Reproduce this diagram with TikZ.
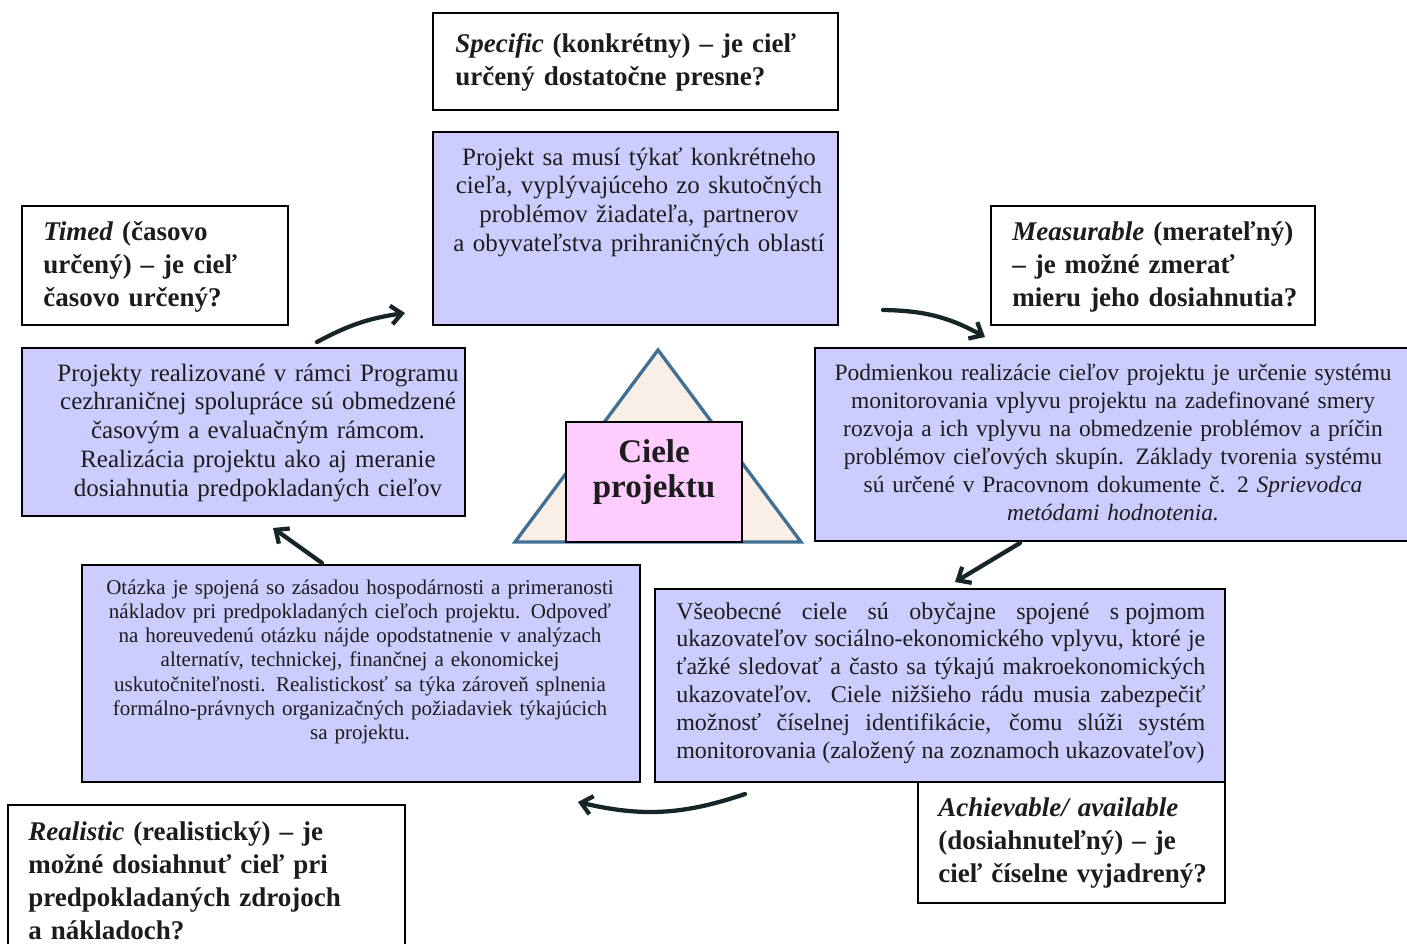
\documentclass[tikz,border=0pt]{standalone}
\usepackage{fontspec}
\setmainfont{Liberation Serif}
\usetikzlibrary{arrows.meta,fit}
\definecolor{lavender}{RGB}{204,204,255}
\definecolor{pinkfill}{RGB}{255,204,255}
\definecolor{trifill}{RGB}{250,239,230}
\definecolor{triedge}{RGB}{64,112,150}
\definecolor{arrowink}{RGB}{22,38,40}
\definecolor{ink}{RGB}{28,28,28}

\begin{document}
\begin{tikzpicture}[x=0.75pt,y=-0.75pt,
  frame/.style={draw=black, line width=1.4pt, inner sep=0pt, outer sep=0pt},
  qbox/.style={frame, fill=white},
  pbox/.style={frame, fill=lavender},
  qtext/.style={anchor=base west, inner sep=0pt, text=ink, align=left,
    text width=340pt, font=\fontsize{20.25}{24.75}\selectfont\bfseries},
  btext/.style={anchor=base, inner sep=0pt, text=ink, align=center,
    text width=#1, font=\fontsize{18.75}{21.6}\selectfont},
  rtext/.style={anchor=base, inner sep=0pt, text=ink, align=center,
    text width=#1, font=\fontsize{17.6}{21}\selectfont},
  stext/.style={anchor=base, inner sep=0pt, text=ink, align=center,
    text width=#1, font=\fontsize{15.75}{18.2}\selectfont},
  arr/.style={draw=arrowink, line width=3.2pt, line cap=round,
    -{Straight Barb[length=8pt,width=14pt]}},
]
% page area
\useasboundingbox (0,0) rectangle (1407,943);
\fill[white] (0,0) rectangle (1407,943);

% central triangle with the goal box
\draw[fill=trifill, draw=triedge, line width=2.5pt]
  (658,350) -- (801,542) -- (515,542) -- cycle;
\node[frame, fill=pinkfill, fit={(566,422) (742,542)}] (goal) {};
\node[anchor=base, inner sep=0pt, text=ink, align=center, text width=150pt,
  font=\fontsize{24.75}{26.25}\selectfont\bfseries] (goalT) at (654,462)
  {Ciele\\projektu};

% S -- Specific
\node[qbox, fit={(433,13) (838,110)}] (spec) {};
\node[qtext] (specT) at (455,52)
  {\textit{Specific} (konkrétny) – je cieľ\\určený dostatočne presne?};
\node[pbox, fit={(433,132) (838,325)}] (specD) {};
\node[btext=300pt] (specDT) at (639,165)
  {Projekt sa musí týkať konkrétneho\\cieľa, vyplývajúceho zo skutočných\\problémov žiadateľa, partnerov\\a obyvateľstva prihraničných oblastí};

% T -- Timed
\node[qbox, fit={(22,206) (288,325)}] (timed) {};
\node[qtext] (timedT) at (43,240)
  {\textit{Timed} (časovo\\určený) – je cieľ\\časovo určený?};
\node[pbox, fit={(22,348) (465,516)}] (timedD) {};
\node[btext=320pt] (timedDT) at (258,381)
  {Projekty realizované v rámci Programu\\cezhraničnej spolupráce sú obmedzené\\časovým a evaluačným rámcom.\\Realizácia projektu ako aj meranie\\dosiahnutia predpokladaných cieľov};

% M -- Measurable
\node[qbox, fit={(991,206) (1315,325)}] (meas) {};
\node[qtext] (measT) at (1012,240)
  {\textit{Measurable} (merateľný)\\– je možné zmerať\\mieru jeho dosiahnutia?};
\node[pbox, fit={(815,348) (1412,541)}] (measD) {};
\node[rtext=440pt] (measDT) at (1113,380)
  {Podmienkou realizácie cieľov projektu je určenie systému\\monitorovania vplyvu projektu na zadefinované smery\\rozvoja a ich vplyvu na obmedzenie problémov a príčin\\problémov cieľových skupín. Základy tvorenia systému\\sú určené v Pracovnom dokumente č. 2 \textit{Sprievodca}\\\textit{metódami hodnotenia.}};

% A -- Achievable
\node[pbox, fit={(655,589) (1225,782)}] (achD) {};
\node[anchor=base west, inner sep=0pt, text=ink, align=justify, text width=396.75pt,
  font=\fontsize{18}{20.85}\selectfont] (achDT) at (676,619)
  {\parfillskip=0pt Všeobecné ciele sú obyčajne spojené \mbox{s pojmom}\linebreak
   ukazovateľov sociálno-ekonomického vplyvu, ktoré je\linebreak
   ťažké sledovať a často sa týkajú makroekonomických\linebreak
   ukazovateľov. Ciele nižšieho rádu musia zabezpečiť\linebreak
   možnosť číselnej identifikácie, čomu slúži systém\linebreak
   monitorovania (založený na zoznamoch ukazovateľov)};
\node[qbox, fit={(918,782) (1225,903)}] (ach) {};
\node[qtext] (achT) at (938,816)
  {\textit{Achievable/ available}\\(dosiahnuteľný) – je\\cieľ číselne vyjadrený?};

% R -- Realistic
\node[pbox, fit={(82,565) (640,782)}] (realD) {};
\node[stext=400pt] (realDT) at (360,594)
  {Otázka je spojená so zásadou hospodárnosti a primeranosti\\nákladov pri predpokladaných cieľoch projektu. Odpoveď\\na horeuvedenú otázku nájde opodstatnenie v analýzach\\alternatív, technickej, finančnej a ekonomickej\\uskutočniteľnosti. Realistickosť sa týka zároveň splnenia\\formálno-právnych organizačných požiadaviek týkajúcich\\sa projektu.};
\node[qbox, fit={(8,805) (405,965)}] (real) {};
\node[qtext] (realT) at (28,840)
  {\textit{Realistic} (realistický) – je\\možné dosiahnuť cieľ pri\\predpokladaných zdrojoch\\a nákladoch?};

% cycle arrows
\coordinate (tsA) at (317,342);  \coordinate (tsB) at (405,313);
\coordinate (smA) at (883,310);  \coordinate (smB) at (985,337);
\coordinate (maA) at (1020,543); \coordinate (maB) at (955,582);
\coordinate (arA) at (745,794);  \coordinate (arB) at (578,802);
\coordinate (rtA) at (322,563);  \coordinate (rtB) at (273,528);
\draw[arr] (tsA) to[bend left=10] (tsB);
\draw[arr] (smA) to[bend left=14] (smB);
\draw[arr] (maA) -- (maB);
\draw[arr] (arA) to[bend left=16] (arB);
\draw[arr] (rtA) -- (rtB);
\end{tikzpicture}
\end{document}
